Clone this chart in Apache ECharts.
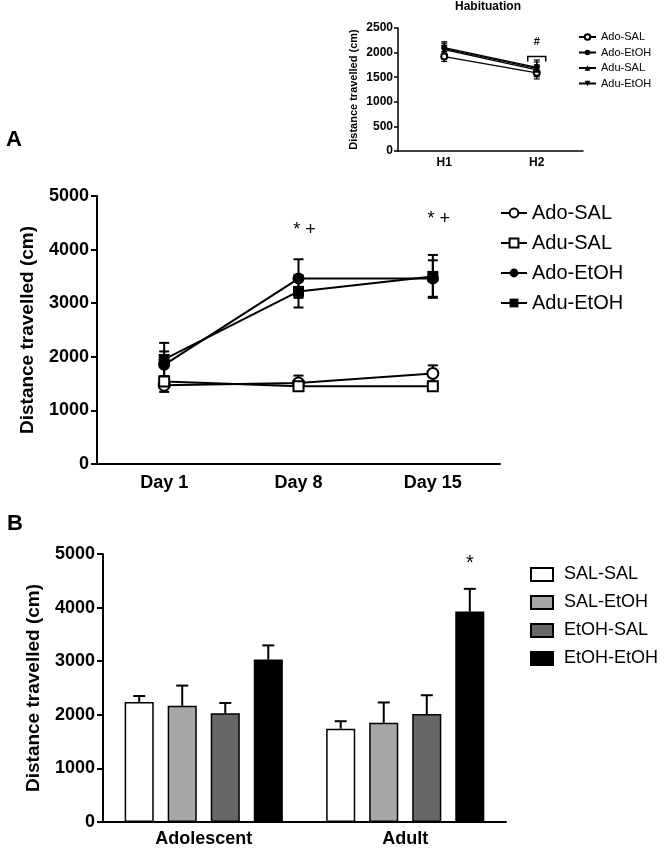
<!DOCTYPE html>
<html>
<head>
<meta charset="utf-8">
<script src="https://cdn.jsdelivr.net/npm/echarts@6/dist/echarts.min.js"></script>
<style>
  html, body { margin: 0; padding: 0; background: #fff; }
  #main { width: 672px; height: 850px; }
</style>
</head>
<body>
<div id="main"></div>
<script>
// habituation inset
var habDays = ["H1", "H2"];
var habAdoSal = [1920, 1590];
var habAdoSalSem = [100, 125];
var habAdoEtoh = [2100, 1700];
var habAdoEtohSem = [120, 110];
var habAduSal = [2060, 1650];
var habAduSalSem = [90, 100];
var habAduEtoh = [2080, 1680];
var habAduEtohSem = [110, 170];
var habSig = [[1, 1920, "#"]];

// panel A
var days = ["Day 1", "Day 8", "Day 15"];
var adoSal = [1470, 1510, 1690];
var adoSalSem = [125, 140, 150];
var aduSal = [1540, 1450, 1450];
var aduSalSem = [60, 50, 40];
var adoEtoh = [1850, 3460, 3460];
var adoEtohSem = [250, 360, 340];
var aduEtoh = [1950, 3220, 3500];
var aduEtohSem = [310, 300, 400];
var sigA = [[1, 4370, "* +"], [2, 4570, "* +"]];

// panel B
var groups = ["Adolescent", "Adult"];
var salSal = [2240, 1740];
var salSalSem = [110, 140];
var salEtoh = [2170, 1850];
var salEtohSem = [375, 380];
var etohSal = [2030, 2015];
var etohSalSem = [190, 350];
var etohEtoh = [3030, 3925];
var etohEtohSem = [265, 425];
var sigB = [[1, 4830, 3, "*"]];

var FONT = "'Liberation Sans', Arial, sans-serif";
var CAT_GAP = 0.215;
var BAR_GAP = 0.48;

var myChart = echarts.init(document.getElementById("main"));

function plain(v) { return String(v); }

// error bars for the line panels (both directions)
function lineErr(means, sems) {
    return means.map(function (m, i) { return [i, m - sems[i], m + sems[i]]; });
}
function lineErrItem(cap, lw) {
    return function (params, api) {
        var lo = api.coord([api.value(0), api.value(1)]);
        var hi = api.coord([api.value(0), api.value(2)]);
        var st = { stroke: "#000", lineWidth: lw };
        return {
            type: "group",
            children: [
                { type: "line", shape: { x1: lo[0], y1: lo[1], x2: hi[0], y2: hi[1] }, style: st },
                { type: "line", shape: { x1: lo[0] - cap, y1: lo[1], x2: lo[0] + cap, y2: lo[1] }, style: st },
                { type: "line", shape: { x1: hi[0] - cap, y1: hi[1], x2: hi[0] + cap, y2: hi[1] }, style: st }
            ]
        };
    };
}

// offset of bar idx inside its category band
function barOffset(api, idx) {
    var band = api.size([1, 0])[0];
    var avail = band * (1 - CAT_GAP);
    var bw = avail / (4 + 3 * BAR_GAP);
    return -avail / 2 + idx * bw * (1 + BAR_GAP) + bw / 2;
}
function barErrItem(idx) {
    return function (params, api) {
        var off = barOffset(api, idx);
        var base = api.coord([api.value(0), api.value(1)]);
        var top = api.coord([api.value(0), api.value(2)]);
        var x = base[0] + off;
        var st = { stroke: "#000", lineWidth: 2 };
        return {
            type: "group",
            children: [
                { type: "line", shape: { x1: x, y1: base[1], x2: x, y2: top[1] }, style: st },
                { type: "line", shape: { x1: x - 6, y1: top[1], x2: x + 6, y2: top[1] }, style: st }
            ]
        };
    };
}
function barErrData(means, sems) {
    return means.map(function (m, i) { return [i, m, m + sems[i]]; });
}

function lineSeries(name, data, symbol, size, xi, lw, rotate) {
    var empty = symbol.indexOf("empty") === 0;
    return {
        name: name,
        type: "line",
        xAxisIndex: xi,
        yAxisIndex: xi,
        data: data,
        symbol: symbol,
        symbolSize: size,
        symbolRotate: rotate || 0,
        showAllSymbol: true,
        lineStyle: { color: "#000", width: lw },
        itemStyle: { color: "#000", borderColor: "#000", borderWidth: empty ? (xi === 0 ? 1.3 : 2) : 0 },
        z: 3,
        animation: false
    };
}

function barSeries(name, data, color) {
    return {
        name: name,
        type: "bar",
        xAxisIndex: 2,
        yAxisIndex: 2,
        data: data,
        barCategoryGap: (CAT_GAP * 100) + "%",
        barGap: (BAR_GAP * 100) + "%",
        itemStyle: { color: color, borderColor: "#000", borderWidth: 1.5 },
        z: 3,
        animation: false
    };
}

var axisLine = { lineStyle: { color: "#000", width: 2 } };

var option = {
    animation: false,
    backgroundColor: "#fff",
    textStyle: { fontFamily: FONT },
    grid: [
        { left: 398, top: 28, width: 185, height: 123 },
        { left: 97, top: 196, width: 403, height: 268 },
        { left: 103, top: 554, width: 403, height: 268 }
    ],
    xAxis: [
        {
            type: "category", gridIndex: 0, data: habDays,
            axisLine: { lineStyle: { color: "#000", width: 1.5 } },
            axisTick: { alignWithLabel: true, length: 4, lineStyle: { color: "#000", width: 1.5 } },
            axisLabel: { color: "#000", fontWeight: "bold", fontSize: 12, margin: 6, fontFamily: FONT }
        },
        {
            type: "category", gridIndex: 1, data: days,
            axisLine: axisLine,
            axisTick: { alignWithLabel: true, length: 6, lineStyle: { color: "#000", width: 2 } },
            axisLabel: { color: "#000", fontWeight: "bold", fontSize: 18, margin: 10, fontFamily: FONT }
        },
        {
            type: "category", gridIndex: 2, data: groups,
            axisLine: axisLine,
            axisTick: { alignWithLabel: true, length: 6, lineStyle: { color: "#000", width: 2 } },
            axisLabel: { color: "#000", fontWeight: "bold", fontSize: 18, margin: 8, fontFamily: FONT }
        }
    ],
    yAxis: [
        {
            type: "value", gridIndex: 0, min: 0, max: 2500, interval: 500,
            name: "Distance travelled (cm)", nameLocation: "middle", nameGap: 39,
            nameTextStyle: { color: "#000", fontWeight: "bold", fontSize: 11, fontFamily: FONT },
            axisLine: { show: true, lineStyle: { color: "#000", width: 1.5 } },
            axisTick: { show: true, length: 4, lineStyle: { color: "#000", width: 1.5 } },
            axisLabel: { color: "#000", fontWeight: "bold", fontSize: 12, margin: 5, fontFamily: FONT, formatter: plain },
            splitLine: { show: false }
        },
        {
            type: "value", gridIndex: 1, min: 0, max: 5000, interval: 1000,
            name: "Distance travelled (cm)", nameLocation: "middle", nameGap: 60,
            nameTextStyle: { color: "#000", fontWeight: "bold", fontSize: 19, fontFamily: FONT },
            axisLine: { show: true, lineStyle: { color: "#000", width: 2 } },
            axisTick: { show: true, length: 6, lineStyle: { color: "#000", width: 2 } },
            axisLabel: { color: "#000", fontWeight: "bold", fontSize: 18, margin: 8, fontFamily: FONT, formatter: plain },
            splitLine: { show: false }
        },
        {
            type: "value", gridIndex: 2, min: 0, max: 5000, interval: 1000,
            name: "Distance travelled (cm)", nameLocation: "middle", nameGap: 60,
            nameTextStyle: { color: "#000", fontWeight: "bold", fontSize: 19, fontFamily: FONT },
            axisLine: { show: true, lineStyle: { color: "#000", width: 2 } },
            axisTick: { show: true, length: 6, lineStyle: { color: "#000", width: 2 } },
            axisLabel: { color: "#000", fontWeight: "bold", fontSize: 18, margin: 8, fontFamily: FONT, formatter: plain },
            splitLine: { show: false }
        }
    ],
    legend: [
        {
            data: ["H:Ado-SAL", "H:Ado-EtOH", "H:Adu-SAL", "H:Adu-EtOH"],
            formatter: function (n) { return n.replace("H:", ""); },
            orient: "vertical", left: 578, top: 31, padding: 0,
            itemWidth: 17, itemHeight: 7, itemGap: 3.5,
            selectedMode: false,
            textStyle: { color: "#000", fontSize: 11, lineHeight: 12, fontFamily: FONT }
        },
        {
            data: ["Ado-SAL", "Adu-SAL", "Ado-EtOH", "Adu-EtOH"],
            orient: "vertical", left: 500, top: 203, padding: 0,
            itemWidth: 26, itemHeight: 11, itemGap: 10,
            selectedMode: false,
            textStyle: { color: "#000", fontSize: 20, lineHeight: 20, fontFamily: FONT }
        },
        {
            data: ["SAL-SAL", "SAL-EtOH", "EtOH-SAL", "EtOH-EtOH"],
            orient: "vertical", left: 530, top: 565, padding: 0,
            itemWidth: 22, itemHeight: 13, itemGap: 9,
            icon: "rect",
            selectedMode: false,
            textStyle: { color: "#000", fontSize: 18, lineHeight: 19, padding: [0, 0, 0, 6], fontFamily: FONT }
        }
    ],
    graphic: [
        { type: "text", left: 455, top: 1, style: { text: "Habituation", font: "bold 12px " + FONT, fill: "#000" } },
        { type: "text", left: 6, top: 129, style: { text: "A", font: "bold 22px " + FONT, fill: "#000" } },
        { type: "text", left: 7, top: 513, style: { text: "B", font: "bold 22px " + FONT, fill: "#000" } }
    ],
    series: [
        // inset
        { type: "custom", xAxisIndex: 0, yAxisIndex: 0, renderItem: lineErrItem(3, 1.2), data: lineErr(habAdoSal, habAdoSalSem), z: 1, silent: true },
        { type: "custom", xAxisIndex: 0, yAxisIndex: 0, renderItem: lineErrItem(3, 1.2), data: lineErr(habAdoEtoh, habAdoEtohSem), z: 1, silent: true },
        { type: "custom", xAxisIndex: 0, yAxisIndex: 0, renderItem: lineErrItem(3, 1.2), data: lineErr(habAduSal, habAduSalSem), z: 1, silent: true },
        { type: "custom", xAxisIndex: 0, yAxisIndex: 0, renderItem: lineErrItem(3, 1.2), data: lineErr(habAduEtoh, habAduEtohSem), z: 1, silent: true },
        lineSeries("H:Ado-SAL", habAdoSal, "emptyCircle", 6, 0, 1.3),
        lineSeries("H:Ado-EtOH", habAdoEtoh, "circle", 6, 0, 1.3),
        lineSeries("H:Adu-SAL", habAduSal, "triangle", 6, 0, 1.3),
        lineSeries("H:Adu-EtOH", habAduEtoh, "triangle", 6, 0, 1.3, 180),
        {
            type: "custom", xAxisIndex: 0, yAxisIndex: 0, data: habSig, silent: true,
            renderItem: function (params, api) {
                var p = api.coord([api.value(0), api.value(1)]);
                var st = { stroke: "#000", lineWidth: 1.5, fill: null };
                return {
                    type: "group",
                    children: [
                        { type: "polyline", shape: { points: [[p[0] - 9, p[1] + 5], [p[0] - 9, p[1]], [p[0] + 9, p[1]], [p[0] + 9, p[1] + 5]] }, style: st },
                        { type: "text", x: p[0], y: p[1] - 9, style: { text: habSig[params.dataIndex][2], font: "bold 11px " + FONT, fill: "#000", align: "center", verticalAlign: "bottom" } }
                    ]
                };
            }
        },
        // panel A
        { type: "custom", xAxisIndex: 1, yAxisIndex: 1, renderItem: lineErrItem(5, 2), data: lineErr(adoSal, adoSalSem), z: 1, silent: true },
        { type: "custom", xAxisIndex: 1, yAxisIndex: 1, renderItem: lineErrItem(5, 2), data: lineErr(aduSal, aduSalSem), z: 1, silent: true },
        { type: "custom", xAxisIndex: 1, yAxisIndex: 1, renderItem: lineErrItem(5, 2), data: lineErr(adoEtoh, adoEtohSem), z: 1, silent: true },
        { type: "custom", xAxisIndex: 1, yAxisIndex: 1, renderItem: lineErrItem(5, 2), data: lineErr(aduEtoh, aduEtohSem), z: 1, silent: true },
        lineSeries("Ado-SAL", adoSal, "emptyCircle", 11, 1, 2),
        lineSeries("Adu-SAL", aduSal, "emptyRect", 10, 1, 2),
        lineSeries("Ado-EtOH", adoEtoh, "circle", 12, 1, 2),
        lineSeries("Adu-EtOH", aduEtoh, "rect", 11, 1, 2),
        {
            type: "custom", xAxisIndex: 1, yAxisIndex: 1, data: sigA, silent: true,
            renderItem: function (params, api) {
                var p = api.coord([api.value(0), api.value(1)]);
                return { type: "text", x: p[0] + 6, y: p[1], style: { text: sigA[params.dataIndex][2], font: "18px " + FONT, fill: "#000", align: "center", verticalAlign: "middle" } };
            }
        },
        // panel B
        barSeries("SAL-SAL", salSal, "#ffffff"),
        barSeries("SAL-EtOH", salEtoh, "#a7a7a9"),
        barSeries("EtOH-SAL", etohSal, "#676767"),
        barSeries("EtOH-EtOH", etohEtoh, "#000000"),
        { type: "custom", xAxisIndex: 2, yAxisIndex: 2, renderItem: barErrItem(0), data: barErrData(salSal, salSalSem), z: 2, silent: true },
        { type: "custom", xAxisIndex: 2, yAxisIndex: 2, renderItem: barErrItem(1), data: barErrData(salEtoh, salEtohSem), z: 2, silent: true },
        { type: "custom", xAxisIndex: 2, yAxisIndex: 2, renderItem: barErrItem(2), data: barErrData(etohSal, etohSalSem), z: 2, silent: true },
        { type: "custom", xAxisIndex: 2, yAxisIndex: 2, renderItem: barErrItem(3), data: barErrData(etohEtoh, etohEtohSem), z: 2, silent: true },
        {
            type: "custom", xAxisIndex: 2, yAxisIndex: 2, data: sigB, silent: true,
            renderItem: function (params, api) {
                var p = api.coord([api.value(0), api.value(1)]);
                var off = barOffset(api, api.value(2));
                return { type: "text", x: p[0] + off, y: p[1], style: { text: sigB[params.dataIndex][3], font: "20px " + FONT, fill: "#000", align: "center", verticalAlign: "middle" } };
            }
        }
    ]
};

myChart.setOption(option);
window.addEventListener("resize", function () {
    myChart.resize();
});
</script>
</body>
</html>
